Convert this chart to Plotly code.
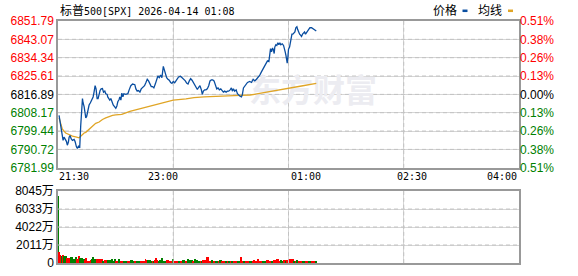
import plotly.graph_objects as go

# ---------------- data ----------------
title_text = "标普500[SPX] 2026-04-14 01:08"
prev_close = 6816.89
price_ticks = [6781.99, 6790.72, 6799.44, 6808.17, 6816.89, 6825.61, 6834.34, 6843.07, 6851.79]
x_tick_minutes = [0, 97.5, 195, 292.5, 390]
x_tick_labels = ["21:30", "23:00", "01:00", "02:30", "04:00"]
vol_ticks = [0, 2011, 4022, 6033, 8045]
vol_tick_labels = ["0", "2011万", "4022万", "6033万", "8045万"]

price_minutes = [
    0.9, 1.4, 2.3, 3.1, 3.7, 4.3, 5.1, 6.0, 7.1, 7.9, 8.8, 9.4, 10.2, 11.1, 12.2, 13.6, 14.4, 15.6, 16.4, 17.3,
    18.4, 19.2, 20.1, 20.7, 21.2, 22.1, 22.9, 23.5, 24.3, 25.2, 25.7, 26.3, 27.4, 28.6, 29.7, 30.5, 31.4, 32.2,
    33.1, 33.9, 34.8, 35.6, 36.5, 37.6, 38.5, 39.6, 40.4, 41.6, 42.1, 43.0, 43.8, 44.7, 45.5, 46.7, 47.8, 48.9,
    49.8, 50.6, 51.7, 52.3, 53.2, 54.0, 54.9, 55.7, 57.4, 59.1, 60.2, 61.6, 63.1, 65.0, 65.9, 67.0, 68.1, 69.3,
    70.4, 71.5, 73.2, 74.4, 75.5, 76.6, 77.7, 78.9, 80.0, 81.1, 82.3, 83.4, 84.5, 85.7, 86.8, 87.9, 88.5, 89.1,
    89.9, 90.7, 91.9, 93.0, 94.1, 95.3, 96.4, 97.5, 98.7, 99.8, 100.9, 102.0, 103.7, 104.9, 106.6, 107.7, 108.8,
    110.0, 111.1, 112.2, 113.4, 114.5, 115.6, 116.7, 117.9, 119.0, 120.1, 121.3, 122.1, 123.0, 124.1, 125.2,
    126.3, 127.5, 128.6, 129.7, 130.9, 132.0, 133.1, 134.3, 135.4, 136.5, 137.7, 138.8, 139.9, 141.0, 142.2,
    143.3, 144.4, 145.6, 146.7, 147.5, 148.4, 149.5, 150.7, 151.8, 152.9, 154.0, 155.2, 156.0, 156.9, 158.0,
    159.1, 160.3, 162.2, 163.7, 165.1, 166.5, 167.9, 169.3, 170.7, 172.1, 173.5, 175.0, 176.4, 177.2, 178.4,
    179.2, 179.8, 180.6, 181.5, 182.3, 182.9, 183.4, 184.3, 185.1, 186.0, 186.8, 187.7, 188.5, 189.7, 190.8,
    191.4, 192.2, 192.8, 193.3, 193.9, 194.5, 195.0, 195.9, 196.4, 197.0, 197.9, 198.7, 199.5, 200.4, 201.2,
    202.1, 202.7, 203.5, 204.4, 205.2, 206.0, 206.9, 207.7, 208.6, 209.4, 210.3, 211.1, 212.3, 213.1, 214.5,
    215.9, 217.3, 218.5]
price_values = [
    6806.95, 6804.96, 6801.13, 6798.83, 6797.30, 6795.01, 6796.54, 6795.77, 6794.55, 6792.71, 6794.24, 6796.54,
    6797.30, 6795.77, 6795.01, 6795.47, 6794.55, 6791.94, 6791.18, 6792.25, 6791.94, 6801.89, 6808.02, 6814.91,
    6812.92, 6811.08, 6808.02, 6805.72, 6806.49, 6809.55, 6811.08, 6811.84, 6812.92, 6814.14, 6815.67, 6817.97,
    6821.03, 6819.50, 6814.91, 6814.91, 6817.97, 6818.73, 6819.50, 6819.65, 6817.97, 6818.43, 6817.20, 6816.89,
    6815.67, 6814.91, 6814.14, 6814.91, 6813.37, 6811.84, 6811.08, 6810.31, 6811.38, 6813.37, 6814.45, 6815.67,
    6814.14, 6817.51, 6815.67, 6817.20, 6816.89, 6817.20, 6819.04, 6821.03, 6821.79, 6821.49, 6819.50, 6818.43,
    6818.73, 6817.97, 6819.50, 6819.96, 6821.03, 6822.56, 6824.09, 6823.32, 6821.49, 6820.57, 6820.57, 6819.96,
    6821.79, 6824.09, 6825.62, 6824.85, 6826.08, 6824.85, 6827.92, 6830.21, 6828.68, 6827.15, 6824.85, 6824.09,
    6823.63, 6822.56, 6822.10, 6823.02, 6822.41, 6823.32, 6824.55, 6825.16, 6825.47, 6824.85, 6823.78, 6823.32,
    6822.25, 6821.79, 6823.32, 6824.40, 6823.63, 6822.56, 6821.03, 6819.96, 6819.19, 6820.26, 6821.03, 6819.04,
    6816.89, 6818.43, 6819.04, 6819.04, 6819.50, 6821.03, 6823.32, 6823.78, 6823.78, 6823.32, 6821.03, 6819.50,
    6819.96, 6819.04, 6819.50, 6818.43, 6817.97, 6818.43, 6817.97, 6818.43, 6818.43, 6819.04, 6819.96, 6818.43,
    6819.50, 6818.43, 6819.04, 6817.20, 6816.44, 6815.98, 6815.67, 6816.89, 6819.96, 6821.03, 6821.49, 6822.56,
    6823.02, 6822.56, 6824.09, 6823.32, 6824.09, 6824.85, 6826.08, 6827.61, 6829.14, 6830.67, 6831.74, 6832.81,
    6832.51, 6836.33, 6838.63, 6837.10, 6838.94, 6837.87, 6836.33, 6839.40, 6840.47, 6840.16, 6841.39, 6840.47,
    6841.39, 6840.47, 6840.93, 6840.16, 6837.87, 6837.10, 6835.57, 6833.27, 6831.74, 6834.80, 6838.32, 6839.40,
    6841.39, 6843.22, 6845.52, 6845.52, 6846.28, 6846.59, 6848.58, 6849.04, 6847.82, 6846.59, 6845.52, 6845.06,
    6844.45, 6845.52, 6845.98, 6846.59, 6845.52, 6846.28, 6847.05, 6847.51, 6848.58, 6848.58, 6848.12, 6847.82,
    6847.05]

avg_minutes = [0.9, 2.3, 3.7, 6.5, 9.4, 12.2, 15.0, 17.8, 19.2, 20.7, 22.1, 23.5, 26.3, 29.1, 31.9, 34.8, 37.6,
               40.4, 43.3, 46.1, 48.9, 54.0, 60.8, 69.3, 77.7, 86.2, 91.9, 97.5, 108.3, 115.0, 123.5, 132.0,
               140.5, 149.0, 154.6, 162.5, 169.3, 177.8, 186.3, 196.2, 206.0, 218.5]
avg_values = [6805.72, 6802.66, 6800.36, 6798.53, 6797.61, 6797.00, 6796.69, 6796.23, 6797.00, 6798.07, 6798.53,
              6798.83, 6800.36, 6801.89, 6803.12, 6803.73, 6804.96, 6805.72, 6806.49, 6806.95, 6807.10, 6807.40,
              6808.78, 6810.01, 6811.38, 6812.61, 6813.37, 6814.14, 6814.75, 6815.36, 6815.67, 6815.98, 6815.98,
              6816.28, 6816.44, 6816.59, 6817.20, 6817.97, 6819.04, 6819.65, 6820.87, 6822.10]

# volume per minute (万), and direction (1 = up/red, 0 = down/green)
volume = [
    7440, 1230, 930, 820, 930, 750, 740, 720, 560, 560,
    500, 670, 650, 480, 470, 630, 480, 460, 740, 560,
    540, 410, 400, 370, 560, 260, 250, 270, 370, 440,
    630, 480, 370, 450, 440, 440, 450, 430, 260, 250,
    370, 370, 370, 360, 370, 190, 440, 200, 450, 190,
    190, 180, 440, 260, 250, 260, 190, 180, 190, 190,
    180, 190, 370, 370, 190, 190, 180, 260, 250, 260,
    110, 120, 110, 260, 440, 300, 300, 290, 300, 110,
    260, 260, 370, 560, 370, 260, 370, 360, 560, 260,
    250, 260, 370, 360, 190, 180, 190, 440, 260, 250,
    260, 250, 190, 180, 190, 180, 370, 370, 190, 180,
    440, 260, 370, 370, 260, 250, 440, 370, 370, 260,
    250, 120, 110, 370, 300, 300, 670, 650, 190, 180,
    370, 190, 190, 180, 110, 190, 120, 370, 360, 190,
    260, 250, 190, 180, 110, 120, 260, 190, 180, 190,
    180, 190, 190, 180, 190, 670, 260, 190, 180, 190,
    180, 190, 110, 190, 180, 110, 370, 260, 250, 480,
    190, 180, 190, 110, 120, 190, 180, 370, 360, 190,
    180, 120, 260, 370, 360, 440, 430, 260, 250, 290,
    260, 370, 360, 120, 370, 480, 470, 260, 440, 430,
    120, 110, 370, 260, 190, 180, 190, 110, 190, 180,
    260, 250, 190, 180, 190, 190, 180, 190, 260]
volume_up = [
    0, 1, 1, 0, 1, 0, 0, 0, 1, 1,
    1, 0, 0, 0, 0, 0, 1, 1, 1, 0,
    0, 0, 0, 1, 1, 1, 1, 1, 1, 0,
    0, 0, 0, 1, 1, 1, 1, 1, 0, 0,
    1, 1, 0, 0, 0, 0, 0, 0, 0, 1,
    1, 1, 0, 1, 1, 1, 0, 0, 0, 1,
    1, 1, 0, 0, 0, 1, 1, 0, 0, 0,
    1, 1, 1, 1, 1, 1, 0, 0, 0, 0,
    1, 0, 1, 1, 1, 0, 0, 0, 0, 0,
    0, 0, 1, 1, 1, 1, 1, 0, 1, 1,
    1, 1, 0, 0, 1, 1, 0, 0, 1, 1,
    0, 0, 0, 0, 1, 1, 0, 0, 0, 0,
    0, 1, 0, 1, 1, 1, 1, 1, 1, 1,
    0, 0, 1, 1, 0, 0, 1, 0, 0, 1,
    1, 1, 0, 0, 1, 0, 1, 0, 0, 1,
    1, 1, 0, 0, 0, 1, 1, 0, 0, 1,
    1, 1, 0, 0, 0, 1, 1, 1, 1, 1,
    1, 1, 1, 0, 0, 0, 0, 1, 1, 1,
    1, 0, 0, 1, 1, 1, 1, 1, 1, 0,
    0, 1, 1, 0, 1, 1, 1, 1, 1, 1,
    0, 1, 0, 0, 1, 1, 1, 0, 0, 0,
    1, 1, 0, 0, 0, 1, 1, 1, 0]

# ---------------- styles ----------------
W, H = 578, 276
PL, PR, PT, PB = 58, 519, 21, 270   # plot left/right/top/bottom in px
MAIN_BOTTOM, VOL_TOP = 172, 196
RED, GREEN, BLACK = "#ff0000", "#008000", "#000000"
BLUE_LINE, ORANGE_LINE = "#0a4ea0", "#e0a526"
FRAME = "#999999"
GRID_BASE, GRID_DASH_COLOR = "#d6d6d6", "#c2c2c2"
DASH_PX, GAP_PX = 4, 3
TICK_FONT = "Liberation Sans, Noto Sans CJK SC"
MONO_FONT = "DejaVu Sans Mono, Noto Sans CJK SC"
CJK_FONT = "Noto Sans CJK SC"


def px_x(p):
    return (p - PL) / (PR - PL)


def px_y(p):
    return (PB - p) / (PB - PT)


def col(v):
    if abs(v - prev_close) < 1e-6:
        return BLACK
    return RED if v > prev_close else GREEN


price_ticktext = ['<span style="color:%s">%.2f</span>' % (col(t), t) for t in price_ticks]
pct_ticks = [(t - prev_close) / prev_close * 100 for t in price_ticks]
pct_ticktext = ['<span style="color:%s">%.2f%%</span>' % (col(t), abs(p)) for t, p in zip(price_ticks, pct_ticks)]
pct_values = [(p - prev_close) / prev_close * 100 for p in price_values]
x_max = x_tick_minutes[-1]


def dashed_segments(lo, hi, unit_per_px):
    segs = []
    s = lo
    step_on, step = DASH_PX * unit_per_px, (DASH_PX + GAP_PX) * unit_per_px
    while s < hi:
        segs.append((s, min(s + step_on, hi)))
        s += step
    return segs


def grid_trace(h_vals, v_vals, x_lo, x_hi, y_lo, y_hi, height_px, xa, ya):
    xs, ys = [], []
    xu = (x_hi - x_lo) / (PR - PL)
    yu = (y_hi - y_lo) / height_px
    for t in h_vals:
        for a, b in dashed_segments(x_lo, x_hi, xu):
            xs += [a, b, None]
            ys += [t, t, None]
    for t in v_vals:
        for a, b in dashed_segments(y_lo, y_hi, yu):
            xs += [t, t, None]
            ys += [a, b, None]
    return go.Scatter(x=xs, y=ys, mode="lines", line=dict(color=GRID_DASH_COLOR, width=1),
                      hoverinfo="skip", showlegend=False, xaxis=xa, yaxis=ya, connectgaps=False)


fig = go.Figure()

fig.add_trace(grid_trace(price_ticks[1:-1], x_tick_minutes[1:-1], 0, x_max,
                         price_ticks[0], price_ticks[-1], MAIN_BOTTOM - PT, "x", "y"))
fig.add_trace(grid_trace(vol_ticks[1:-1], x_tick_minutes[1:-1], 0, x_max,
                         vol_ticks[0], vol_ticks[-1], PB - VOL_TOP, "x2", "y3"))

fig.add_trace(go.Scatter(
    x=[x_max * px_x(313)], y=[price_ticks[0] + (price_ticks[-1] - price_ticks[0]) * 0.50],
    mode="text", text=["<b>东方财富</b>"],
    textfont=dict(family=CJK_FONT, size=32, color="#ececf1"),
    hoverinfo="skip", showlegend=False, xaxis="x", yaxis="y"))

fig.add_trace(go.Scatter(x=avg_minutes, y=avg_values, mode="lines",
                         line=dict(color=ORANGE_LINE, width=1.3), name="均线",
                         xaxis="x", yaxis="y", showlegend=False))
fig.add_trace(go.Scatter(x=price_minutes, y=price_values, mode="lines",
                         line=dict(color=BLUE_LINE, width=1.3), name="价格",
                         xaxis="x", yaxis="y", showlegend=False))
fig.add_trace(go.Scatter(x=price_minutes, y=pct_values, mode="lines", line=dict(width=0),
                         opacity=0, hoverinfo="skip", showlegend=False, xaxis="x", yaxis="y2"))
fig.add_trace(go.Bar(x=list(range(len(volume))), y=volume,
                     marker=dict(color=[RED if u else GREEN for u in volume_up], line=dict(width=0)),
                     width=0.8, xaxis="x2", yaxis="y3", showlegend=False))

main_dom = [px_y(MAIN_BOTTOM), 1]
vol_dom = [0, px_y(VOL_TOP)]

common_x = dict(range=[0, x_max], tickmode="array", tickvals=x_tick_minutes, showticklabels=False,
                showgrid=True, gridcolor=GRID_BASE, gridwidth=1,
                showline=True, mirror=True, linecolor=FRAME, linewidth=1.5, zeroline=False)

fig.update_layout(
    width=W, height=H,
    margin=dict(l=PL, r=W - PR, t=PT, b=H - PB, pad=0),
    paper_bgcolor="white", plot_bgcolor="white",
    showlegend=False, bargap=0,
    xaxis=dict(domain=[0, 1], anchor="y", **common_x),
    xaxis2=dict(domain=[0, 1], anchor="y3", **common_x),
    yaxis=dict(domain=main_dom, range=[price_ticks[0], price_ticks[-1]], tickmode="array",
               tickvals=price_ticks, ticktext=price_ticktext,
               tickfont=dict(family=TICK_FONT, size=12, color=BLACK),
               showgrid=True, gridcolor=GRID_BASE, gridwidth=1,
               showline=True, mirror=True, linecolor=FRAME, linewidth=1.5, zeroline=False),
    yaxis2=dict(overlaying="y", side="right", anchor="x", tickmode="array",
                range=[pct_ticks[0], pct_ticks[-1]], tickvals=pct_ticks, ticktext=pct_ticktext,
                tickfont=dict(family=TICK_FONT, size=12, color=BLACK), showgrid=False,
                showline=False, zeroline=False),
    yaxis3=dict(domain=vol_dom, anchor="x2", range=[0, vol_ticks[-1]], tickmode="array",
                tickvals=vol_ticks, ticktext=vol_tick_labels,
                tickfont=dict(family=TICK_FONT, size=12, color=BLACK),
                showgrid=True, gridcolor=GRID_BASE, gridwidth=1,
                showline=True, mirror=True, linecolor=FRAME, linewidth=1.5, zeroline=False),
)

shapes = [
    dict(type="rect", xref="paper", yref="paper", x0=px_x(462.5), x1=px_x(467.5),
         y0=px_y(11.8), y1=px_y(9.2), fillcolor=BLUE_LINE, line=dict(width=0)),
    dict(type="rect", xref="paper", yref="paper", x0=px_x(508), x1=px_x(513),
         y0=px_y(11.8), y1=px_y(9.2), fillcolor=ORANGE_LINE, line=dict(width=0)),
]
fig.update_layout(shapes=shapes)

annotations = []
annotations.append(dict(
    text='<span style="font-family:Noto Sans CJK SC;font-size:12px">标普</span>' + title_text[2:],
    xref="paper", yref="paper", x=px_x(58), y=px_y(9.5), xanchor="left", yanchor="middle",
    showarrow=False, font=dict(family=MONO_FONT, size=10, color=BLACK)))
annotations.append(dict(text="价格", xref="paper", yref="paper", x=px_x(431), y=px_y(9.5),
                        xanchor="left", yanchor="middle", showarrow=False,
                        font=dict(family=CJK_FONT, size=12, color=BLACK)))
annotations.append(dict(text="均线", xref="paper", yref="paper", x=px_x(476), y=px_y(9.5),
                        xanchor="left", yanchor="middle", showarrow=False,
                        font=dict(family=CJK_FONT, size=12, color=BLACK)))
x_label_pos = [(57, "left"), (163, "center"), (306, "center"), (412, "center"), (519, "right")]
for lab, (p, anc) in zip(x_tick_labels, x_label_pos):
    annotations.append(dict(text=lab, xref="paper", yref="paper", x=px_x(p), y=px_y(181.5),
                            xanchor=anc, yanchor="middle", showarrow=False,
                            font=dict(family=MONO_FONT, size=10, color=BLACK)))
fig.update_layout(annotations=annotations)

fig.write_html("out.html", config={"displayModeBar": False})
